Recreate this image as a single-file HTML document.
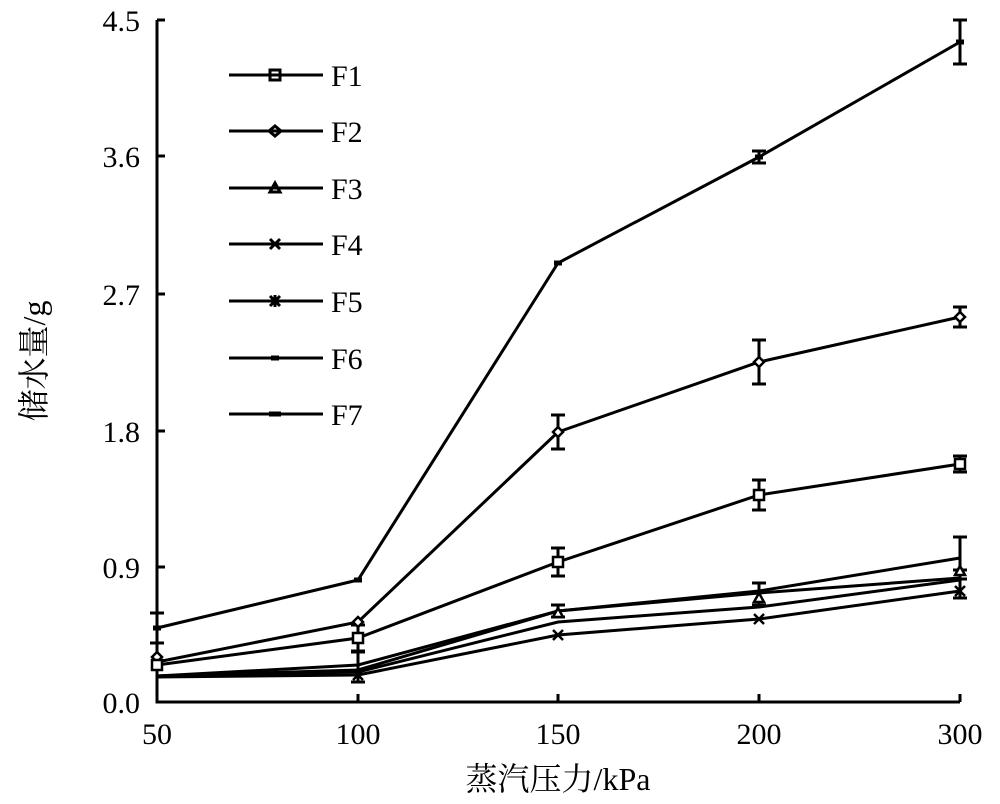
<!DOCTYPE html>
<html><head><meta charset="utf-8"><style>body{margin:0;background:#fff}svg{display:block}</style></head><body>
<svg width="1000" height="804" xmlns="http://www.w3.org/2000/svg" font-family="Liberation Serif, Noto Serif CJK SC, serif">
<g stroke="#000" stroke-width="3" fill="none">
<path d="M157,20 V702 H960"/>
<path d="M157,20h8M157,156h8M157,294h8M157,431h8M157,567h8"/>
<path d="M358,702v-8M558,702v-8M759,702v-8M960,702v-8"/>
<polyline points="157,628 358,580 558,263 759,157 960,42"/>
<path d="M157,613v30M150,613h14M150,643h14M960,20v44M953,20h14M953,64h14M759,151v12M752,151h14M752,163h14"/>
<path d="M153,628h8M354,580h8M554,263h8M755,157h8M956,42h8" stroke-width="5"/>
<polyline points="157,662 358,622 558,432 759,362 960,317"/>
<path d="M558,415v34M551,415h14M551,449h14M759,340v44M752,340h14M752,384h14M960,307v20M953,307h14M953,327h14"/>
<polyline points="157,665 358,638 558,562 759,495 960,464"/>
<path d="M358,625v26M351,625h14M351,651h14M558,548v28M551,548h14M551,576h14M759,480v30M752,480h14M752,510h14M960,456v16M953,456h14M953,472h14"/>
<polyline points="157,676 358,665 558,611 759,591 960,558"/>
<polyline points="157,676 358,670 558,611 759,593 960,578"/>
<polyline points="157,676 358,672 558,622 759,607 960,580"/>
<polyline points="157,677 358,675 558,635 759,619 960,591"/>
<path d="M960,537v42M953,537h14M953,579h14M759,583v22M752,583h14M752,605h14M558,605v12M551,605h14M551,617h14M358,652v30M351,652h14M351,682h14M960,570v28M953,570h14M953,598h14"/>
</g>
<g stroke="#000" stroke-width="2.5" fill="#fff">
<path d="M152,657l5,-5 5,5 -5,5z M353,622l5,-5 5,5 -5,5z M553,432l5,-5 5,5 -5,5z M754,362l5,-5 5,5 -5,5z M955,317l5,-5 5,5 -5,5z"/>
<path d="M152,660h10v10h-10z M353,633h10v10h-10z M553,557h10v10h-10z M754,490h10v10h-10z M955,459h10v10h-10z"/>
<path d="M553,617l5,-9 5,9z M754,602l5,-9 5,9z M955,575l5,-9 5,9z"/>
<path d="M553,630l10,10M563,630l-10,10M754,614l10,10M764,614l-10,10M955,586l10,10M965,586l-10,10M353,670l10,10M363,670l-10,10"/>
</g>
<g stroke="#000" stroke-width="3" fill="none">
<path d="M229,75h94M229,131h94M229,188h94M229,244h94M229,301h94M229,358h94M229,414h94"/>
<path d="M270,70h10v10h-10z M269,131l6,-5 6,5 -6,5z M270,192l5,-9 5,9z M270,239l10,10M280,239l-10,10M270,296l10,10M280,296l-10,10M275,295v12M268,301h14"/>
<path d="M271,358h8M269,414h12" stroke-width="5"/>
</g>
<g font-size="30" fill="#000">
<text x="331" y="86">F1</text><text x="331" y="142">F2</text><text x="331" y="199">F3</text><text x="331" y="255">F4</text><text x="331" y="312">F5</text><text x="331" y="369">F6</text><text x="331" y="425">F7</text>
<g text-anchor="end"><text x="140" y="31">4.5</text><text x="140" y="167">3.6</text><text x="140" y="305">2.7</text><text x="140" y="442">1.8</text><text x="140" y="578">0.9</text><text x="140" y="713">0.0</text></g>
<g text-anchor="middle"><text x="157" y="744">50</text><text x="358" y="744">100</text><text x="558" y="744">150</text><text x="759" y="744">200</text><text x="960" y="744">300</text></g>
<text x="558" y="790" text-anchor="middle" font-size="32">蒸汽压力/kPa</text>
<text transform="translate(45,361) rotate(-90)" text-anchor="middle" font-size="32">储水量/g</text>
</g>
</svg>
</body></html>
